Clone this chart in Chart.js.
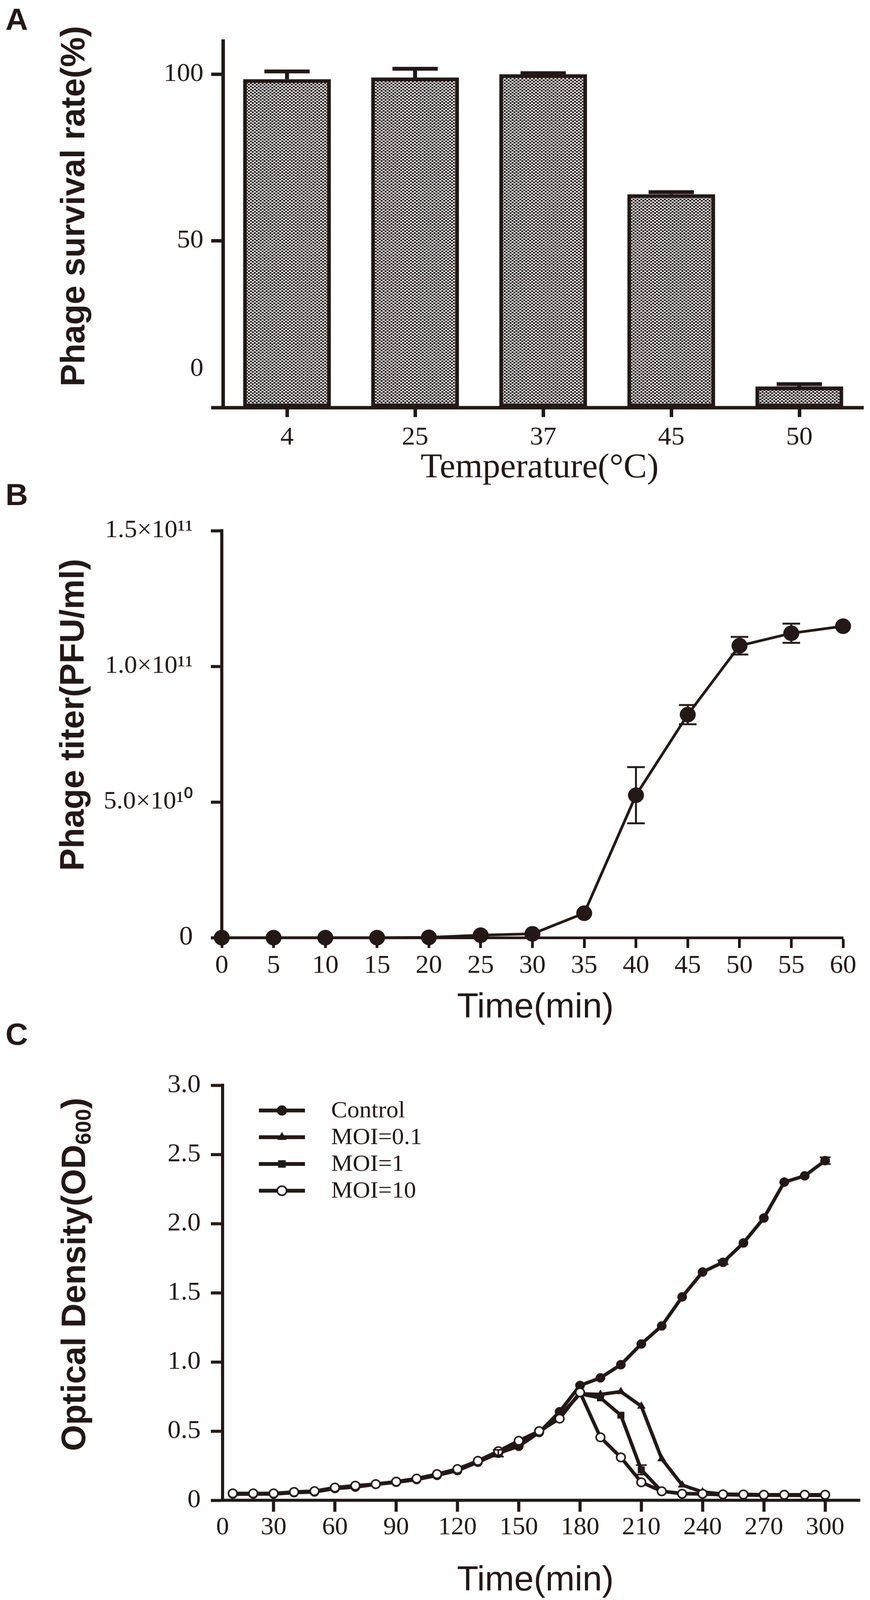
<!DOCTYPE html>
<html>
<head>
<meta charset="utf-8">
<title>Phage stability, one-step growth and lysis curves</title>
<script src="https://cdn.jsdelivr.net/npm/chart.js@4.4.1/dist/chart.umd.min.js"></script>
<style>
    html, body { margin: 0; padding: 0; background: #fff; overflow: hidden; }
    /* the figure is laid out on a 2228 x 4188 grid and stretched to the viewport */
    #fig { position: absolute; left: 0; top: 0; width: 100vw; height: 100vh; overflow: hidden; }
    #fig canvas { position: absolute; left: 0; width: 100%; }
</style>
</head>
<body>
<div id="fig">
    <canvas id="panel-a" width="2228" height="1300"></canvas>
    <canvas id="panel-b" width="2228" height="1470"></canvas>
    <canvas id="panel-c" width="2228" height="1568"></canvas>
</div>
<script>
/* global Chart */

// ---------------------------------------------------------
// Data
// ---------------------------------------------------------

// A — thermal stability
var tempLabels    = ['4', '25', '37', '45', '50'];
var survivalRate  = [98.5, 99.0, 100.0, 64.0, 6.3];
var survivalErr   = [2.9, 3.2, 0.9, 1.2, 1.3];
var survivalTicks = [0, 50, 100];

// B — one-step growth curve
var growthTime      = [0, 5, 10, 15, 20, 25, 30, 35, 40, 45, 50, 55, 60];
var phageTiter      = [0, 0, 0, 0, 0.01e10, 0.09e10, 0.14e10, 0.9e10, 5.25e10, 8.22e10, 10.76e10, 11.22e10, 11.48e10];
var titerErr        = [0, 0, 0, 0, 0, 0, 0, 0, 1.07e10, 0.39e10, 0.36e10, 0.39e10, 0];
var titerTicks      = [0, 5e10, 1e11, 1.5e11];
var titerTickLabels = ['0', '5.0×10¹⁰', '1.0×10¹¹', '1.5×10¹¹'];

// C — lysis curves at different MOI
var lysisTime  = [10, 20, 30, 40, 50, 60, 70, 80, 90, 100, 110, 120, 130, 140, 150,
                  160, 170, 180, 190, 200, 210, 220, 230, 240, 250, 260, 270, 280, 290, 300];
var odControl  = [0.045, 0.045, 0.045, 0.055, 0.060, 0.085, 0.095, 0.115, 0.130, 0.150, 0.180, 0.215, 0.275, 0.340, 0.390,
                  0.490, 0.640, 0.830, 0.885, 0.980, 1.130, 1.260, 1.470, 1.650, 1.720, 1.860, 2.040, 2.300, 2.345, 2.455];
var odMoi01    = [0.045, 0.045, 0.048, 0.055, 0.064, 0.088, 0.100, 0.116, 0.134, 0.155, 0.185, 0.220, 0.280, 0.345, 0.405,
                  0.490, 0.610, 0.770, 0.765, 0.785, 0.680, 0.300, 0.110, 0.060, 0.045, 0.042, 0.040, 0.040, 0.040, 0.040];
var odMoi1     = [0.045, 0.046, 0.047, 0.056, 0.063, 0.087, 0.098, 0.115, 0.133, 0.153, 0.184, 0.218, 0.278, 0.342, 0.400,
                  0.492, 0.605, 0.770, 0.740, 0.615, 0.220, 0.065, 0.050, 0.045, 0.040, 0.038, 0.036, 0.036, 0.035, 0.035];
var odMoi10    = [0.050, 0.050, 0.050, 0.060, 0.066, 0.092, 0.106, 0.117, 0.135, 0.157, 0.189, 0.226, 0.285, 0.355, 0.430,
                  0.500, 0.590, 0.780, 0.455, 0.310, 0.130, 0.065, 0.047, 0.047, 0.043, 0.042, 0.040, 0.040, 0.040, 0.040];
var odControlErr = [0, 0, 0, 0, 0, 0, 0, 0, 0, 0, 0, 0, 0, 0.03, 0,
                    0, 0, 0, 0, 0, 0, 0, 0, 0, 0.02, 0, 0, 0, 0, 0.03];
var odMoi1Err    = [0, 0, 0, 0, 0, 0, 0, 0, 0, 0, 0, 0, 0, 0, 0,
                    0, 0, 0, 0, 0, 0.04, 0, 0, 0, 0, 0, 0, 0, 0, 0];
var lysisSeries  = ['Control', 'MOI=0.1', 'MOI=1', 'MOI=10'];
var odTicks      = [0, 0.5, 1.0, 1.5, 2.0, 2.5, 3.0];
var lysisTicks   = [0, 30, 60, 90, 120, 150, 180, 210, 240, 270, 300];

(function () {
    'use strict';

    var INK   = '#231815';
    var CLEAR = 'rgba(0,0,0,0)';
    var SERIF = '"Liberation Serif", "Times New Roman", serif';
    var SANS  = '"Liberation Sans", Arial, sans-serif';
    var FIG_H = 4188;

    Chart.defaults.color = INK;
    Chart.defaults.font.family = SERIF;

    // place each canvas as a share of the figure height
    function place(id, top) {
        var c = document.getElementById(id);
        c.style.top    = (top / FIG_H * 100) + '%';
        c.style.height = (c.height / FIG_H * 100) + '%';
        return c.getContext('2d');
    }

    function xy(xs, ys) {
        return xs.map(function (x, i) { return { x: x, y: ys[i] }; });
    }

    function fixedTicks(values) {
        return function (scale) {
            scale.ticks = values.map(function (v) {
                return { value: Math.min(Math.max(v, scale.min), scale.max) };
            });
        };
    }

    // dotted screen fill of the bars
    function dotPattern(ctx) {
        var tile = document.createElement('canvas');
        tile.width = 10;
        tile.height = 8;
        var t = tile.getContext('2d');
        t.fillStyle = '#fff';
        t.fillRect(0, 0, 10, 8);
        t.fillStyle = INK;
        [[2.5, 2], [7.5, 6]].forEach(function (p) {
            t.beginPath();
            t.arc(p[0], p[1], 2.7, 0, Math.PI * 2);
            t.fill();
        });
        return ctx.createPattern(tile, 'repeat');
    }

    function axisStyle(tickLength, lineWidth) {
        return {
            grid: {
                display: true,
                drawOnChartArea: false,
                drawTicks: true,
                tickLength: tickLength,
                tickWidth: lineWidth,
                tickColor: INK,
            },
            border: { display: true, color: INK, width: lineWidth },
        };
    }

    function merge(a, b) {
        Object.keys(b).forEach(function (k) { a[k] = b[k]; });
        return a;
    }

    // ---------------------------------------------------------
    // Plugins
    // ---------------------------------------------------------
    var errorBars = {
        id: 'errorBars',
        afterDatasetsDraw: function (chart) {
            var ctx = chart.ctx;
            chart.data.datasets.forEach(function (ds, i) {
                if (!ds.errors) return;
                var meta  = chart.getDatasetMeta(i);
                var scale = chart.scales[meta.yAxisID];
                ctx.save();
                ctx.strokeStyle = INK;
                ctx.lineWidth   = ds.errorWidth;
                ctx.lineCap     = 'butt';
                meta.data.forEach(function (el, j) {
                    var err = ds.errors[j];
                    if (!err) return;
                    var raw  = ds.data[j];
                    var v    = typeof raw === 'number' ? raw : raw.y;
                    var yTop = scale.getPixelForValue(v + err);
                    var yBot = ds.errorUpOnly ? el.y : scale.getPixelForValue(v - err);
                    var half = ds.capWidth / 2;
                    var hw   = ds.errorWidth / 2;
                    ctx.beginPath();
                    ctx.moveTo(el.x, yBot);
                    ctx.lineTo(el.x, yTop);
                    ctx.moveTo(el.x - half, yTop + hw);
                    ctx.lineTo(el.x + half, yTop + hw);
                    if (!ds.errorUpOnly) {
                        ctx.moveTo(el.x - half, yBot - hw);
                        ctx.lineTo(el.x + half, yBot - hw);
                    }
                    ctx.stroke();
                });
                ctx.restore();
            });
        },
    };

    // free text: panel letters and axis titles
    function textPlugin(items) {
        return {
            id: 'panelText',
            afterDraw: function (chart) {
                var ctx = chart.ctx;
                items.forEach(function (it) {
                    ctx.save();
                    ctx.translate(it.x, it.y);
                    if (it.rotate) ctx.rotate(-Math.PI / 2);
                    ctx.fillStyle    = INK;
                    ctx.textAlign    = 'left';
                    ctx.textBaseline = 'alphabetic';
                    var widths = it.parts.map(function (p) {
                        ctx.font = p.font;
                        return ctx.measureText(p.text).width;
                    });
                    var total = widths.reduce(function (a, b) { return a + b; }, 0);
                    var x = it.align === 'left' ? 0 : -total / 2;
                    it.parts.forEach(function (p, k) {
                        ctx.font = p.font;
                        ctx.fillText(p.text, x, p.dy || 0);
                        x += widths[k];
                    });
                    ctx.restore();
                });
            },
        };
    }

    // legend rows: line sample with the series marker, then the name
    function lineLegend(x0, x1, textX, firstY, step) {
        return {
            id: 'lineLegend',
            afterDraw: function (chart) {
                var ctx = chart.ctx;
                chart.data.datasets.forEach(function (ds, i) {
                    var y = firstY + i * step;
                    ctx.save();
                    ctx.strokeStyle = INK;
                    ctx.lineWidth = 10;
                    ctx.beginPath();
                    ctx.moveTo(x0, y);
                    ctx.lineTo(x1, y);
                    ctx.stroke();
                    ctx.fillStyle   = ds.pointBackgroundColor;
                    ctx.strokeStyle = ds.pointBorderColor;
                    ctx.lineWidth   = ds.pointBorderWidth;
                    Chart.helpers.drawPoint(ctx, {
                        pointStyle: ds.pointStyle,
                        radius: ds.pointRadius + 1,
                        rotation: 0,
                        borderWidth: ds.pointBorderWidth,
                    }, (x0 + x1) / 2, y);
                    ctx.fillStyle    = INK;
                    ctx.font         = '62px ' + SERIF;
                    ctx.textAlign    = 'left';
                    ctx.textBaseline = 'middle';
                    ctx.fillText(ds.label, textX, y + 2);
                    ctx.restore();
                });
            },
        };
    }

    var baseOptions = {
        responsive: false,
        devicePixelRatio: 1,
        animation: false,
        events: [],
        plugins: { legend: { display: false }, tooltip: { enabled: false } },
    };

    // ---------------------------------------------------------
    // A — survival rate bars
    // ---------------------------------------------------------
    var ctxA = place('panel-a', 0);
    new Chart(ctxA, {
        type: 'bar',
        data: {
            labels: tempLabels,
            datasets: [{
                data:            survivalRate,
                errors:          survivalErr,
                errorUpOnly:     true,
                errorWidth:      10,
                capWidth:        116,
                backgroundColor: dotPattern(ctxA),
                borderColor:     INK,
                borderWidth:     10,
                borderSkipped:   false,
                barPercentage:   0.686,
                categoryPercentage: 1,
            }],
        },
        options: merge({
            layout: { padding: { top: 107, right: 17, bottom: 0, left: 0 } },
            scales: {
                x: merge(axisStyle(25, 9), {
                    type: 'category',
                    offset: true,
                    grid: {
                        display: true, offset: false, drawOnChartArea: false, drawTicks: true,
                        tickLength: 25, tickWidth: 9, tickColor: INK,
                    },
                    ticks: { font: { family: SERIF, size: 68 }, padding: 13, maxRotation: 0, autoSkip: false },
                    afterFit: function (s) { s.height = 233; },
                }),
                y: merge(axisStyle(30, 9), {
                    min: 0,
                    max: 110,
                    afterBuildTicks: fixedTicks(survivalTicks),
                    ticks: {
                        padding: 20,
                        // the zero label sits well above the axis in the original
                        font: function (c) {
                            return { family: SERIF, size: 68, lineHeight: c.tick && c.tick.value === 0 ? 1.49 : 1.2 };
                        },
                        callback: function (v) { return v === 0 ? ['0', '', ''] : String(v); },
                    },
                    afterFit: function (s) { s.width = 571; },
                }),
            },
        }, baseOptions),
        plugins: [errorBars, textPlugin([
            { x: 14, y: 78, align: 'left', parts: [{ text: 'A', font: 'bold 80px ' + SANS }] },
            { x: 216, y: 540, rotate: true, parts: [{ text: 'Phage survival rate(%)', font: 'bold 88px ' + SANS }] },
            { x: 1382, y: 1250, parts: [{ text: 'Temperature(°C)', font: '90px ' + SERIF }] },
        ])],
    });

    // ---------------------------------------------------------
    // B — one-step growth
    // ---------------------------------------------------------
    var ctxB = place('panel-b', 1230);
    new Chart(ctxB, {
        type: 'line',
        data: {
            datasets: [{
                data:                 xy(growthTime, phageTiter),
                errors:               titerErr,
                errorWidth:           5,
                capWidth:             45,
                borderColor:          INK,
                borderWidth:          7,
                tension:              0,
                pointStyle:           'circle',
                pointRadius:          20,
                pointBackgroundColor: INK,
                pointBorderColor:     INK,
                pointBorderWidth:     1,
                clip:                 false,
            }],
        },
        options: merge({
            layout: { padding: { top: 159, right: 69, bottom: 0, left: 0 } },
            scales: {
                x: merge(axisStyle(27, 7), {
                    type: 'linear',
                    min: 0,
                    max: 60,
                    afterBuildTicks: fixedTicks(growthTime),
                    ticks: { font: { family: SERIF, size: 68 }, padding: 6, maxRotation: 0, autoSkip: false },
                    afterFit: function (s) { s.height = 246; },
                }),
                y: merge(axisStyle(28, 8), {
                    type: 'linear',
                    min: 0,
                    max: 1.5e11,
                    afterBuildTicks: fixedTicks(titerTicks),
                    ticks: {
                        padding: 46,
                        font: function (c) {
                            return { family: SERIF, size: c.tick && c.tick.value === 0 ? 70 : 66 };
                        },
                        callback: function (v, i) { return titerTickLabels[i]; },
                    },
                    afterFit: function (s) { s.width = 568; },
                }),
            },
        }, baseOptions),
        plugins: [errorBars, textPlugin([
            { x: 14, y: 92, align: 'left', parts: [{ text: 'B', font: 'bold 80px ' + SANS }] },
            { x: 214, y: 641, rotate: true, parts: [{ text: 'Phage titer(PFU/ml)', font: 'bold 88px ' + SANS }] },
            { x: 1371, y: 1433, parts: [{ text: 'Time(min)', font: '90px ' + SANS }] },
        ])],
    });

    // ---------------------------------------------------------
    // C — lysis curves
    // ---------------------------------------------------------
    function lysisSet(label, values, style, fill, order, errors) {
        return {
            label:                label,
            data:                 xy(lysisTime, values),
            errors:               errors,
            errorWidth:           4,
            capWidth:             28,
            order:                order,
            borderColor:          INK,
            borderWidth:          9,
            tension:              0,
            pointStyle:           style,
            pointRadius:          style === 'triangle' ? 12 : (fill === INK ? 12 : 11),
            pointBackgroundColor: fill,
            pointBorderColor:     INK,
            pointBorderWidth:     fill === INK ? 1 : 4,
            clip:                 false,
        };
    }

    var ctxC = place('panel-c', 2620);
    new Chart(ctxC, {
        type: 'line',
        data: {
            datasets: [
                lysisSet(lysisSeries[0], odControl, 'circle',   INK,    1, odControlErr),
                lysisSet(lysisSeries[1], odMoi01,   'triangle', INK,    3, null),
                lysisSet(lysisSeries[2], odMoi1,    'rect',     INK,    2, odMoi1Err),
                lysisSet(lysisSeries[3], odMoi10,   'circle',   '#fff', 0, null),
            ],
        },
        options: merge({
            layout: { padding: { top: 221, right: 26, bottom: 0, left: 0 } },
            scales: {
                x: merge(axisStyle(30, 8), {
                    type: 'linear',
                    min: 5,
                    max: 317,
                    afterBuildTicks: fixedTicks(lysisTicks),
                    grid: {
                        display: true, drawOnChartArea: false, drawTicks: true,
                        tickLength: 30, tickWidth: 8,
                        tickColor: function (c) { return c.index === 0 ? CLEAR : INK; },
                    },
                    ticks: {
                        font: { family: SERIF, size: 66 }, padding: 2, maxRotation: 0, autoSkip: false,
                        callback: function (v, i) { return String(lysisTicks[i]); },
                    },
                    afterFit: function (s) { s.height = 261; },
                }),
                y: merge(axisStyle(30, 8), {
                    type: 'linear',
                    min: 0,
                    max: 3,
                    afterBuildTicks: fixedTicks(odTicks),
                    ticks: {
                        font: { family: SERIF, size: 68 }, padding: 26,
                        callback: function (v) { return v === 0 ? '0' : v.toFixed(1); },
                    },
                    afterFit: function (s) { s.width = 570; },
                }),
            },
        }, baseOptions),
        plugins: [errorBars, lineLegend(663, 781, 848, 287, 70), textPlugin([
            { x: 14, y: 115, align: 'left', parts: [{ text: 'C', font: 'bold 80px ' + SANS }] },
            { x: 218, y: 716, rotate: true, parts: [
                { text: 'Optical Density(OD', font: 'bold 88px ' + SANS },
                { text: '600', font: 'bold 56px ' + SANS, dy: 14 },
                { text: ')', font: 'bold 88px ' + SANS },
            ] },
            { x: 1371, y: 1543, parts: [{ text: 'Time(min)', font: '90px ' + SANS }] },
        ])],
    });
}());
</script>
</body>
</html>
